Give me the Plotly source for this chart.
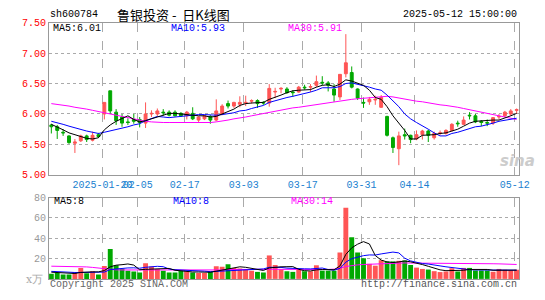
import plotly.graph_objects as go

# ---------------- data ----------------
opens = [5.82,5.79,5.70,5.64,5.52,5.56,5.64,5.57,5.66,6.00,
         6.38,6.03,5.95,5.87,5.91,5.91,5.85,6.00,6.00,6.03,
         6.03,6.03,6.01,5.97,6.01,5.90,5.92,5.96,5.90,6.00,
         6.17,6.13,6.16,6.18,6.21,6.22,6.19,6.18,6.36,6.41,
         6.41,6.36,6.36,6.44,6.44,6.47,6.52,6.51,6.41,6.28,
         6.66,6.68,6.41,6.19,6.20,6.23,6.11,5.96,5.61,5.43,
         5.66,5.65,5.59,5.66,5.72,5.61,5.68,5.68,5.73,5.85,
         5.83,5.98,5.97,5.88,5.86,5.85,5.95,5.97,6.00,6.06]
highs = [5.84,5.82,5.75,5.65,5.59,5.66,5.66,5.71,5.69,6.19,
         6.38,6.08,6.00,5.93,6.00,5.95,6.19,6.06,6.09,6.08,
         6.06,6.06,6.03,6.05,6.11,5.96,5.98,5.98,6.24,6.16,
         6.22,6.20,6.29,6.30,6.24,6.24,6.21,6.49,6.43,6.44,
         6.44,6.39,6.46,6.48,6.49,6.63,6.62,6.54,6.49,6.65,
         7.31,6.78,6.42,6.27,6.28,6.30,6.31,5.97,5.63,5.71,
         5.76,5.66,5.73,5.74,5.74,5.71,5.73,5.75,5.85,5.89,
         5.96,6.03,6.00,5.90,5.91,5.95,6.00,6.05,6.08,6.09]
lows = [5.68,5.59,5.64,5.51,5.36,5.54,5.54,5.55,5.61,5.91,
        6.00,5.82,5.79,5.82,5.84,5.78,5.77,5.95,5.97,5.97,
        5.96,5.96,5.95,5.91,5.90,5.87,5.90,5.84,5.88,5.98,
        6.09,6.10,6.11,6.13,6.17,6.10,6.15,6.12,6.26,6.34,
        6.33,6.28,6.35,6.40,6.36,6.44,6.47,6.37,6.20,6.23,
        6.60,6.42,6.23,6.10,6.15,6.15,6.10,5.63,5.36,5.16,
        5.58,5.52,5.57,5.58,5.54,5.58,5.65,5.66,5.71,5.79,
        5.82,5.91,5.85,5.80,5.80,5.82,5.91,5.95,5.97,6.00]
closes = [5.79,5.73,5.69,5.53,5.54,5.64,5.58,5.65,5.63,6.19,
          6.05,5.89,5.85,5.86,5.88,5.86,6.00,6.01,6.05,6.02,
          5.98,5.97,5.97,6.03,5.92,5.95,5.97,5.90,6.05,6.13,
          6.13,6.19,6.19,6.19,6.22,6.17,6.18,6.42,6.37,6.42,
          6.35,6.35,6.44,6.43,6.45,6.53,6.51,6.47,6.31,6.65,
          6.84,6.44,6.26,6.18,6.24,6.24,6.27,5.65,5.45,5.64,
          5.64,5.58,5.66,5.72,5.65,5.68,5.69,5.73,5.83,5.84,
          5.90,5.97,5.87,5.86,5.85,5.94,5.96,6.03,6.05,6.07]

ma5 = [5.83,5.79,5.74,5.69,5.66,5.63,5.60,5.59,5.61,5.74,
       5.82,5.88,5.92,5.97,5.91,5.87,5.89,5.92,5.96,5.99,
       6.01,6.01,6.00,5.99,5.97,5.97,5.97,5.95,5.96,6.00,
       6.04,6.08,6.14,6.17,6.18,6.19,6.19,6.24,6.27,6.31,
       6.35,6.38,6.39,6.40,6.40,6.44,6.47,6.48,6.45,6.49,
       6.56,6.54,6.50,6.47,6.39,6.27,6.24,6.12,5.97,5.85,
       5.73,5.59,5.59,5.65,5.65,5.66,5.68,5.69,5.72,5.75,
       5.80,5.85,5.88,5.89,5.89,5.90,5.90,5.93,5.97,6.01]
ma10 = [5.88,5.86,5.83,5.80,5.77,5.75,5.72,5.70,5.68,5.70,
        5.72,5.74,5.76,5.79,5.82,5.84,5.89,5.92,5.96,5.95,
        5.94,5.95,5.96,5.98,5.98,5.99,5.99,5.98,5.98,5.99,
        6.00,6.02,6.05,6.06,6.09,6.11,6.14,6.19,6.22,6.25,
        6.27,6.29,6.31,6.34,6.36,6.39,6.43,6.43,6.43,6.45,
        6.50,6.51,6.49,6.46,6.44,6.41,6.39,6.31,6.22,6.12,
        6.00,5.92,5.86,5.81,5.75,5.69,5.64,5.64,5.68,5.70,
        5.73,5.77,5.79,5.80,5.82,5.85,5.88,5.90,5.92,5.93]
ma30 = [6.17,6.16,6.15,6.13,6.11,6.10,6.08,6.06,6.04,6.01,
        5.99,5.97,5.95,5.93,5.92,5.90,5.88,5.87,5.86,5.86,
        5.86,5.86,5.855,5.855,5.855,5.855,5.855,5.86,5.87,5.88,
        5.90,5.92,5.93,5.95,5.97,5.99,6.01,6.03,6.05,6.07,
        6.08,6.10,6.11,6.125,6.14,6.16,6.17,6.18,6.20,6.21,
        6.23,6.24,6.25,6.26,6.27,6.28,6.29,6.29,6.28,6.26,
        6.25,6.23,6.21,6.20,6.18,6.17,6.15,6.14,6.13,6.11,
        6.09,6.07,6.05,6.03,6.01,5.99,5.97,5.95,5.93,5.91]

volumes = [5.0,5.9,4.4,4.4,6.6,10.6,5.6,7.5,4.4,12.8,
           29.4,13.4,10.0,8.1,7.2,6.3,15.3,12.2,9.7,8.1,
           6.3,6.3,8.1,7.2,6.3,5.9,5.9,7.2,12.5,11.9,
           14.4,10.6,10.3,9.7,8.1,6.9,6.3,23.1,13.7,9.4,
           7.5,6.9,9.4,7.5,7.5,13.4,8.1,8.1,8.1,26.0,
           70.0,41.0,26.0,20.3,14.8,13.0,18.4,17.2,17.2,17.8,
           18.1,13.7,11.1,9.8,9.2,7.6,6.7,7.3,10.5,7.3,
           10.8,10.8,8.3,8.3,8.3,7.0,9.8,9.0,8.5,9.0]
vma5 = [6.6,6.2,5.4,5.0,5.3,6.4,6.3,6.9,6.9,8.2,
        11.9,13.5,14.0,14.7,13.6,9.0,9.4,9.8,10.1,10.3,
        10.3,8.5,7.7,7.2,6.8,6.8,6.7,6.5,7.6,8.7,
        10.4,11.3,11.9,11.4,10.6,9.1,8.3,10.8,11.6,11.9,
        12.0,12.1,9.4,8.1,7.8,8.9,9.2,8.9,9.0,12.7,
        24.1,30.6,34.2,36.7,34.4,23.0,18.5,16.7,16.1,16.7,
        17.7,16.8,15.6,14.1,12.4,10.3,8.9,8.1,8.3,7.9,
        8.5,9.3,9.5,9.1,9.3,8.5,8.4,8.5,8.6,8.6]
vma10 = [7.4,7.0,6.6,6.4,6.3,6.3,6.3,6.4,6.5,6.7,
         9.2,9.9,10.5,10.8,10.9,10.5,11.4,11.9,12.4,12.0,
         9.7,9.0,8.8,8.7,8.6,8.5,7.6,7.1,7.4,7.8,
         8.6,9.0,9.2,9.5,9.7,9.8,9.8,11.4,11.5,11.3,
         10.6,10.2,10.1,9.9,9.8,10.5,10.7,9.2,8.6,10.3,
         16.5,19.9,21.6,22.9,23.6,23.5,24.6,25.5,26.4,25.6,
         20.4,17.7,16.2,15.1,14.6,14.0,12.8,11.9,11.2,10.1,
         9.4,9.1,8.8,8.7,8.6,8.5,8.7,8.8,8.7,8.6]
vma30 = [12.5,12.5,12.5,12.5,12.4,12.3,11.8,11.3,10.6,9.8,
         9.2,8.9,8.8,8.8,8.8,8.8,8.8,8.8,8.8,8.8,
         8.8,8.8,8.8,8.7,8.6,8.3,8.1,8.1,8.4,8.8,
         9.2,9.3,9.3,9.4,9.4,9.4,9.4,9.5,9.5,9.4,
         9.3,9.3,9.2,9.2,9.2,9.3,9.3,9.3,9.6,10.4,
         12.2,13.2,13.8,14.2,14.5,14.8,15.1,15.3,15.4,15.6,
         15.7,15.6,15.6,15.5,15.5,15.4,15.3,15.3,15.2,15.2,
         15.1,15.1,15.0,15.0,14.9,14.9,14.8,14.7,14.5,14.2]

tick_index = [9, 15, 23, 33, 43, 53, 62, 79]
tick_labels = ["2025-01-20", "02-05", "02-17", "03-03", "03-17", "03-31", "04-14", "05-12"]
price_ticks = [5.0, 5.5, 6.0, 6.5, 7.0, 7.5]
volume_ticks = [20, 40, 60, 80]

# ---------------- styling ----------------
W, H = 545, 300
RED = "#ff5555"
GREEN = "#00a800"
MONO = "Liberation Mono, DejaVu Sans Mono, monospace"
x = list(range(len(closes)))
vol_colors = [RED if c >= o else GREEN for o, c in zip(opens, closes)]
grid_pos = [i - 1/3 for i in tick_index]

px_l, px_r = 50, 529
xdom = [px_l / W, px_r / W]
xr = [-0.383, 79.45]
ydom_main = [(H - 177) / H, (H - 18.3) / H]
ydom_vol = [(H - 285.3) / H, (H - 200.7) / H]

fig = go.Figure()
fig.add_trace(go.Candlestick(
    x=x, open=opens, high=highs, low=lows, close=closes,
    increasing=dict(line=dict(color=RED, width=1), fillcolor=RED),
    decreasing=dict(line=dict(color=GREEN, width=1), fillcolor=GREEN),
    whiskerwidth=0, xaxis="x", yaxis="y", showlegend=False, hoverinfo="skip"))
for vals, col in [(ma30, "#ff00ff"), (ma10, "#0000ff"), (ma5, "#000000")]:
    fig.add_trace(go.Scatter(x=x, y=vals, mode="lines", line=dict(color=col, width=1),
                             xaxis="x", yaxis="y", showlegend=False, hoverinfo="skip"))
fig.add_trace(go.Bar(x=x, y=volumes, marker=dict(color=vol_colors, line=dict(width=0)),
                     width=0.83, xaxis="x2", yaxis="y2", showlegend=False, hoverinfo="skip"))
for vals, col in [(vma30, "#ff00ff"), (vma10, "#0000ff"), (vma5, "#000000")]:
    fig.add_trace(go.Scatter(x=x, y=vals, mode="lines", line=dict(color=col, width=1),
                             xaxis="x2", yaxis="y2", showlegend=False, hoverinfo="skip"))

axis_common = dict(showline=True, mirror=True, linecolor="#999999", linewidth=1,
                   zeroline=False, ticks="")
fig.update_layout(
    width=W, height=H, margin=dict(l=0, r=0, t=0, b=0),
    paper_bgcolor="white", plot_bgcolor="white",
    boxgap=0.3,
    xaxis=dict(domain=xdom, range=xr, anchor="y", tickmode="array",
               tickvals=grid_pos, ticktext=tick_labels, tickangle=0,
               tickfont=dict(family=MONO, size=10, color="#1a7fd0"),
               showgrid=True, gridcolor="#aaaaaa", griddash="dash", gridwidth=1,
               rangeslider=dict(visible=False), **axis_common),
    yaxis=dict(domain=ydom_main, range=[5.0, 7.5], anchor="x", tickmode="array",
               tickvals=price_ticks, ticktext=[f"{v:.2f}" for v in price_ticks],
               tickfont=dict(family=MONO, size=10, color="#ff0000"),
               showgrid=True, gridcolor="#aaaaaa", griddash="dot", gridwidth=1,
               **axis_common),
    xaxis2=dict(domain=xdom, range=xr, anchor="y2", tickmode="array",
                tickvals=grid_pos, showticklabels=False,
                showgrid=True, gridcolor="#aaaaaa", griddash="dash", gridwidth=1,
                **axis_common),
    yaxis2=dict(domain=ydom_vol, range=[0, 80], anchor="x2", tickmode="array",
                tickvals=volume_ticks, ticktext=[str(v) for v in volume_ticks],
                tickfont=dict(family=MONO, size=10, color="#999999"),
                showgrid=True, gridcolor="#aaaaaa", griddash="dot", gridwidth=1,
                **axis_common),
)

def ann(text, xpx, ypx, color="#000000", size=10, family=MONO, xanchor="left", **kw):
    fig.add_annotation(text=text, x=xpx / W, y=1 - ypx / H, xref="paper", yref="paper",
                       showarrow=False, xanchor=xanchor, yanchor="middle",
                       font=dict(family=family, size=size, color=color), **kw)

ann("sh600784", 49, 10)
ann("鲁银投资\u00a0-\u00a0\u00a0日K线图", 177, 10, size=13, family="Noto Sans CJK SC", xanchor="center")
ann("2025-05-12 15:00:00", 529, 10, xanchor="right")
ann(f"MA5:{ma5[-1]:.2f}", 52, 24)
ann(f"MA10:{ma10[-1]:.2f}", 172, 24, color="#0000ff")
ann(f"MA30:{ma30[-1]:.2f}", 291, 24, color="#ff00ff")
ann(f"MA5:{int(vma5[-1])}", 53, 205)
ann(f"MA10:{int(vma10[-1])}", 174, 205, color="#0000ff")
ann(f"MA30:{int(round(vma30[-1]))}", 294, 205, color="#ff00ff")
ann("x万", 46, 286, color="#aaaaaa", size=11, family="DejaVu Serif", xanchor="right")
ann("Copyright 2025 SINA.COM", 49, 291, color="#666666")
ann("http://finance.sina.com.cn", 529, 291, color="#555555", xanchor="right")
ann("<b><i>sina</i></b>", 507, 163, color="#cccccc", size=15, family="DejaVu Sans")

fig.write_html("out.html")
